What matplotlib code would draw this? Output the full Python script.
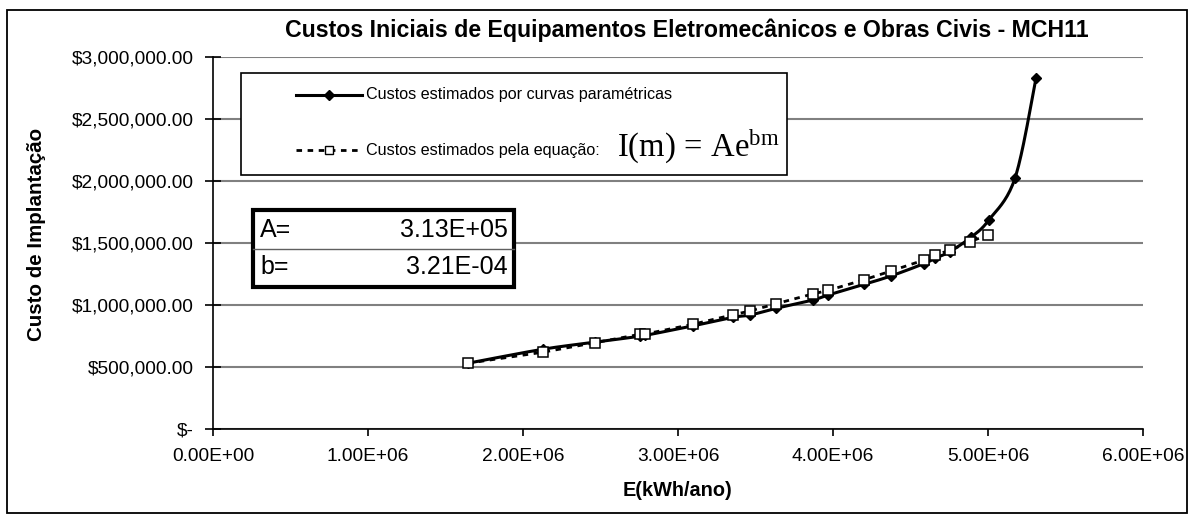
import numpy as np
import matplotlib
matplotlib.use("Agg")
import matplotlib.pyplot as plt
from matplotlib.patches import Rectangle
from matplotlib.lines import Line2D
from matplotlib.ticker import FuncFormatter, MultipleLocator

plt.rcParams['font.family'] = ['Liberation Sans', 'DejaVu Sans']
plt.rcParams['mathtext.fontset'] = 'custom'
plt.rcParams['mathtext.rm'] = 'Liberation Serif'
plt.rcParams['mathtext.it'] = 'Liberation Serif:italic'

# ---- data (E in kWh/ano, cost in $) ----
energia_param = [1.643e6, 2.127e6, 2.465e6, 2.755e6, 2.789e6, 3.094e6, 3.357e6,
                 3.466e6, 3.632e6, 3.869e6, 3.970e6, 4.202e6, 4.374e6, 4.588e6,
                 4.658e6, 4.753e6, 4.890e6, 5.004e6, 5.174e6, 5.310e6]
custo_param = [0.530e6, 0.643e6, 0.700e6, 0.748e6, 0.755e6, 0.831e6, 0.901e6,
               0.919e6, 0.973e6, 1.040e6, 1.081e6, 1.167e6, 1.234e6, 1.334e6,
               1.376e6, 1.430e6, 1.546e6, 1.683e6, 2.022e6, 2.830e6]

energia_eq = [1.643e6, 2.127e6, 2.465e6, 2.755e6, 2.789e6, 3.094e6, 3.357e6,
              3.466e6, 3.632e6, 3.869e6, 3.970e6, 4.202e6, 4.374e6, 4.588e6,
              4.658e6, 4.753e6, 4.886e6, 5.002e6]
custo_eq = [0.530e6, 0.619e6, 0.696e6, 0.764e6, 0.766e6, 0.844e6, 0.922e6,
            0.952e6, 1.010e6, 1.089e6, 1.118e6, 1.204e6, 1.274e6, 1.363e6,
            1.403e6, 1.441e6, 1.511e6, 1.567e6]

param_A = "3.13E+05"
param_b = "3.21E-04"

titulo = "Custos Iniciais de Equipamentos Eletromecânicos e Obras Civis - MCH11"
label_param = "Custos estimados por curvas paramétricas"
label_eq = "Custos estimados pela equação:"
x_label = "E(kWh/ano)"
y_label = "Custo de Implantação"

XMAX, YMAX = 6e6, 3e6


def smooth(x, y, n=20):
    """Catmull-Rom rendering of a polyline (display smoothing, like Excel)."""
    x = np.asarray(x) / XMAX
    y = np.asarray(y) / YMAX
    P = np.column_stack([x, y])
    P = np.vstack([P[0], P, P[-1]])
    out = []
    for i in range(1, len(P) - 2):
        p0, p1, p2, p3 = P[i - 1], P[i], P[i + 1], P[i + 2]
        t = np.linspace(0, 1, n, endpoint=False)[:, None]
        c = 0.5 * ((2 * p1) + (-p0 + p2) * t + (2 * p0 - 5 * p1 + 4 * p2 - p3) * t ** 2
                   + (-p0 + 3 * p1 - 3 * p2 + p3) * t ** 3)
        out.append(c)
    out.append(P[-2][None, :])
    out = np.vstack(out)
    return out[:, 0] * XMAX, out[:, 1] * YMAX


W, H = 1194, 518
fig = plt.figure(figsize=(W / 100, H / 100), dpi=100)
fig.patch.set_facecolor('white')

L, R, T, B = 213, 1143, 57, 429
ax = fig.add_axes([L / W, 1 - B / H, (R - L) / W, (B - T) / H])
ax.set_xlim(0, XMAX)
ax.set_ylim(0, YMAX)

ax.xaxis.set_major_locator(MultipleLocator(1e6))
ax.yaxis.set_major_locator(MultipleLocator(5e5))
ax.yaxis.grid(True, color='#808080', lw=1.5, zorder=0)
ax.set_axisbelow(True)
for s in ['top', 'right']:
    ax.spines[s].set_visible(False)
for s in ['left', 'bottom']:
    ax.spines[s].set_color('black')
    ax.spines[s].set_linewidth(1.2)


def yfmt(v, pos):
    if abs(v) < 1:
        return "$-"
    return "${:,.2f}".format(v)


def xfmt(v, pos):
    return "{:.2E}".format(v)


ax.yaxis.set_major_formatter(FuncFormatter(yfmt))
ax.xaxis.set_major_formatter(FuncFormatter(xfmt))
ax.tick_params(axis='y', direction='inout', length=12, width=1.2, pad=8,
               labelsize=13.8, colors='black')
ax.tick_params(axis='x', direction='out', length=5, width=1.2, pad=9,
               labelsize=13.8, colors='black')

# series
sx, sy = smooth(energia_param, custo_param)
ax.plot(sx, sy, color='black', lw=2.2, zorder=4)
ax.plot(energia_param, custo_param, ls='none', marker='D', ms=5.5,
        color='black', zorder=5)
ax.plot(energia_eq, custo_eq, color='black', lw=2.0, ls=(0, (2, 2)),
        marker='s', ms=7, mfc='white', mec='black', mew=1.1, zorder=6)


def axx(px):
    return (px - L) / (R - L)


def axy(py):
    return (B - py) / (B - T)


# legend box (manual)
ax.add_patch(Rectangle((axx(241), axy(175)), axx(787) - axx(241), axy(73) - axy(175),
                       transform=ax.transAxes, facecolor='white', edgecolor='black',
                       lw=1.2, zorder=7))
y1, y2 = axy(95), axy(150)
ax.add_line(Line2D([axx(296), axx(329), axx(362)], [y1] * 3, transform=ax.transAxes,
                   color='black', lw=2.2, marker='D', ms=5, markevery=[1], zorder=8))
ax.add_line(Line2D([axx(296), axx(329), axx(362)], [y2] * 3, transform=ax.transAxes,
                   color='black', lw=2.0, ls=(0, (2, 2)), marker='s', ms=6,
                   mfc='white', mec='black', mew=1.0, markevery=[1], zorder=8))
ax.text(axx(366), y1, label_param, transform=ax.transAxes, fontsize=11.6,
        va='center', ha='left', zorder=9)
ax.text(axx(366), y2, label_eq, transform=ax.transAxes, fontsize=11.6,
        va='center', ha='left', zorder=9)
ax.text(axx(617), axy(147), r'$\mathrm{I(m)\,=\,Ae^{bm}}$', transform=ax.transAxes,
        fontsize=23.5, va='center', ha='left', zorder=9)

# parameter box
ax.add_patch(Rectangle((axx(253), axy(287)), axx(514) - axx(253), axy(210) - axy(287),
                       transform=ax.transAxes, facecolor='white', edgecolor='black',
                       lw=3, zorder=7))
ax.add_line(Line2D([axx(253), axx(514)], [axy(248.5)] * 2, transform=ax.transAxes,
                   color='#606060', lw=1.0, zorder=8))
ax.text(axx(260), axy(230), "A=", transform=ax.transAxes, fontsize=18,
        va='center', ha='left', zorder=9)
ax.text(axx(508), axy(230), param_A, transform=ax.transAxes, fontsize=18,
        va='center', ha='right', zorder=9)
ax.text(axx(260), axy(267), "b=", transform=ax.transAxes, fontsize=18,
        va='center', ha='left', zorder=9)
ax.text(axx(508), axy(267), param_b, transform=ax.transAxes, fontsize=18,
        va='center', ha='right', zorder=9)

# titles and labels
fig.text(687 / W, 1 - 30 / H, titulo, fontsize=16.7, fontweight='bold',
         ha='center', va='center')
fig.text(677 / W, 1 - 491 / H, x_label, fontsize=14.3, fontweight='bold',
         ha='center', va='center')
fig.text(37 / W, 1 - 234 / H, y_label, fontsize=14.8, fontweight='bold',
         ha='center', va='center', rotation=90)

# outer frame
fig.add_artist(Rectangle((7 / W, 1 - 513 / H), (1187 - 7) / W, (513 - 10) / H,
                         transform=fig.transFigure, fill=False, edgecolor='black',
                         lw=1.3))

fig.savefig("out.png", dpi=100, facecolor='white')
